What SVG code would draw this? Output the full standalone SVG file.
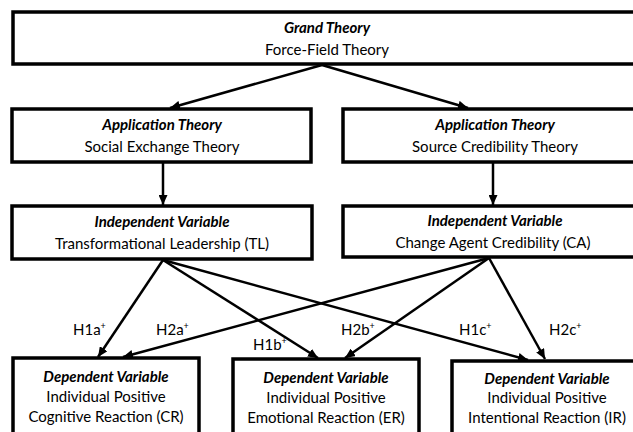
<svg xmlns="http://www.w3.org/2000/svg" width="633" height="432" viewBox="0 0 633 432">
<style>
.box{fill:#fff;stroke:#000;stroke-width:3.5}
text{font-family:Lato,"Open Sans","Liberation Sans",sans-serif;font-size:15px;fill:#000;text-anchor:middle}
.t{font-weight:bold;font-style:italic}
.lbl{text-anchor:start}
.sup{font-size:9px}
.c{stroke:#000;stroke-width:2.5;fill:none;marker-end:url(#ah)}
</style>
<defs>
<marker id="ah" viewBox="0 0 10 9" refX="10" refY="4.5" markerWidth="10" markerHeight="9" orient="auto" markerUnits="userSpaceOnUse">
<path d="M0,0 L10,4.5 L0,9 z" fill="#000"/>
</marker>
</defs>
<g id="grand">
<rect class="box" x="13" y="12" width="630" height="52"/>
<text class="t" x="327" y="33">Grand Theory</text>
<text x="327" y="55">Force-Field Theory</text>
</g>
<g id="app-set">
<rect class="box" x="12" y="109" width="299" height="53"/>
<text class="t" x="162" y="130">Application Theory</text>
<text x="162" y="152">Social Exchange Theory</text>
</g>
<g id="app-sct">
<rect class="box" x="343" y="109" width="305" height="53"/>
<text class="t" x="495" y="130">Application Theory</text>
<text x="495" y="152">Source Credibility Theory</text>
</g>
<g id="iv-tl">
<rect class="box" x="12" y="206" width="300" height="53"/>
<text class="t" x="162" y="227">Independent Variable</text>
<text x="162" y="249">Transformational Leadership (TL)</text>
</g>
<g id="iv-ca">
<rect class="box" x="343" y="206" width="305" height="51"/>
<text class="t" x="495" y="226">Independent Variable</text>
<text x="493" y="248">Change Agent Credibility (CA)</text>
</g>
<g id="dv-cr">
<rect class="box" x="13" y="358" width="186" height="90"/>
<text class="t" x="106" y="382">Dependent Variable</text>
<text x="106" y="402">Individual Positive</text>
<text x="106" y="422">Cognitive Reaction (CR)</text>
</g>
<g id="dv-er">
<rect class="box" x="233" y="359" width="186" height="90"/>
<text class="t" x="326" y="383">Dependent Variable</text>
<text x="326" y="403">Individual Positive</text>
<text x="326" y="423">Emotional Reaction (ER)</text>
</g>
<g id="dv-ir">
<rect class="box" x="452" y="361" width="190" height="90"/>
<text class="t" x="547" y="384">Dependent Variable</text>
<text x="547" y="403">Individual Positive</text>
<text x="547" y="423">Intentional Reaction (IR)</text>
</g>
<g id="connectors">
<line class="c" x1="322" y1="65" x2="170" y2="108"/>
<line class="c" x1="322" y1="65" x2="468" y2="108"/>
<line class="c" x1="163" y1="163" x2="163" y2="205"/>
<line class="c" x1="493" y1="163" x2="493" y2="205"/>
<line class="c" x1="163" y1="260" x2="98" y2="357"/>
<line class="c" x1="163" y1="260" x2="318" y2="358"/>
<line class="c" x1="163" y1="260" x2="528" y2="360"/>
<line class="c" x1="489" y1="258" x2="123" y2="357"/>
<line class="c" x1="489" y1="258" x2="345" y2="358"/>
<line class="c" x1="489" y1="258" x2="545" y2="359"/>
</g>
<g id="labels">
<text class="lbl" x="73" y="335">H1a<tspan class="sup" dy="-6">+</tspan></text>
<text class="lbl" x="156" y="335">H2a<tspan class="sup" dy="-6">+</tspan></text>
<text class="lbl" x="253" y="350">H1b<tspan class="sup" dy="-6">+</tspan></text>
<text class="lbl" x="341" y="335">H2b<tspan class="sup" dy="-6">+</tspan></text>
<text class="lbl" x="459" y="335">H1c<tspan class="sup" dy="-6">+</tspan></text>
<text class="lbl" x="549" y="335">H2c<tspan class="sup" dy="-6">+</tspan></text>
</g>
</svg>
